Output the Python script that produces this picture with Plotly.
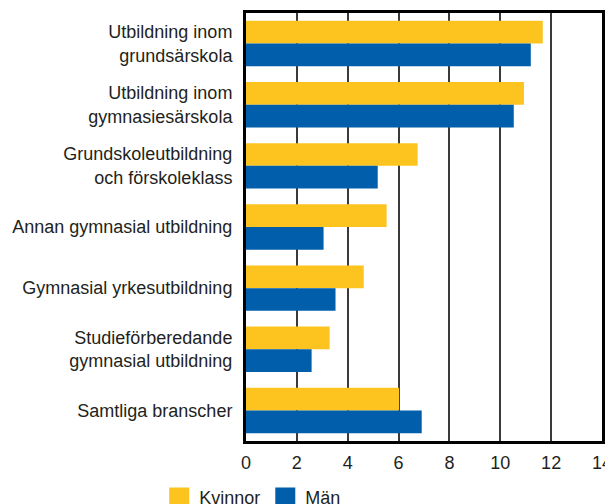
import plotly.graph_objects as go

categories = [
    "Utbildning inom<br>grundsärskola",
    "Utbildning inom<br>gymnasiesärskola",
    "Grundskoleutbildning<br>och förskoleklass",
    "Annan gymnasial utbildning",
    "Gymnasial yrkesutbildning",
    "Studieförberedande<br>gymnasial utbildning",
    "Samtliga branscher",
]
kvinnor = [11.67, 10.93, 6.75, 5.53, 4.63, 3.29, 6.02]
man = [11.2, 10.53, 5.18, 3.05, 3.52, 2.58, 6.91]
x_ticks = [0, 2, 4, 6, 8, 10, 12, 14]

GOLD = "#FDC41F"
BLUE = "#005EAA"
FONT = "Liberation Sans, Arial, sans-serif"

fig = go.Figure()
fig.add_trace(go.Bar(y=categories, x=kvinnor, orientation="h", name="Kvinnor",
                     marker=dict(color=GOLD, line=dict(width=0)), showlegend=False))
fig.add_trace(go.Bar(y=categories, x=man, orientation="h", name="Män",
                     marker=dict(color=BLUE, line=dict(width=0)), showlegend=False))
# legend entries with larger square swatches
fig.add_trace(go.Scatter(x=[None], y=[None], mode="markers", name="Kvinnor",
                         marker=dict(symbol="square", size=16, color=GOLD,
                                     line=dict(width=4, color=GOLD))))
fig.add_trace(go.Scatter(x=[None], y=[None], mode="markers", name="Män",
                         marker=dict(symbol="square", size=16, color=BLUE,
                                     line=dict(width=4, color=BLUE))))

# the page body adds an 8px offset; figure is sized to the visible area
fig.update_layout(
    width=605, height=496,
    margin=dict(l=238, r=11, t=5, b=63),
    barmode="group", bargap=0.257, bargroupgap=0,
    plot_bgcolor="white", paper_bgcolor="white",
    font=dict(family=FONT, size=18, color="#231F20"),
    legend=dict(orientation="h", xref="container", yref="container",
                x=0.25, xanchor="left", y=0.05, yanchor="top",
                font=dict(size=18), itemwidth=30, tracegroupgap=0,
                bgcolor="rgba(0,0,0,0)"),
    xaxis=dict(range=[0, 14], tickvals=x_ticks, ticktext=[str(v) for v in x_ticks],
               showgrid=True, gridcolor="#3a3a3a", gridwidth=2,
               showline=True, linecolor="black", linewidth=3, mirror=True,
               zeroline=False, ticks="", ticklabelstandoff=3, fixedrange=True,
               automargin=False),
    yaxis=dict(autorange="reversed", showline=True, linecolor="black", linewidth=3,
               mirror=True, ticks="", ticklabelstandoff=7, showgrid=False,
               fixedrange=True, automargin=False),
)

fig.write_html("out.html")
